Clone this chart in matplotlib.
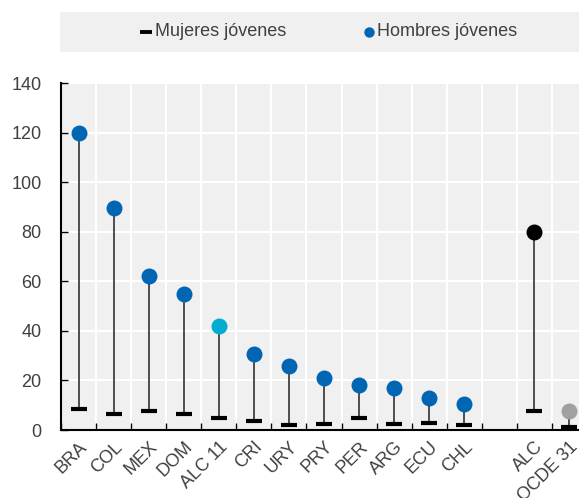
import numpy as np
import matplotlib.pyplot as plt
from matplotlib.patches import Rectangle
from matplotlib.lines import Line2D

plt.rcParams['font.family'] = ['Liberation Sans Narrow', 'Liberation Sans', 'DejaVu Sans']

paises = ['BRA', 'COL', 'MEX', 'DOM', 'ALC 11', 'CRI', 'URY', 'PRY', 'PER', 'ARG', 'ECU', 'CHL', '', 'ALC', 'OCDE 31']
hombres = [120, 89.5, 62, 55, 42, 30.5, 26, 21, 18, 17, 13, 10.5, np.nan, 80, 7.5]
mujeres = [8.5, 6.5, 7.5, 6.5, 4.8, 3.6, 2, 2.5, 5, 2.5, 3, 2, np.nan, 7.7, 1.3]
colores = ['#0066b3'] * 4 + ['#00add0'] + ['#0066b3'] * 7 + ['white', '#000000', '#a0a0a0']
yticks = [0, 20, 40, 60, 80, 100, 120, 140]

gris = '#404040'
fig = plt.figure(figsize=(5.79, 4.98), dpi=100)
ax = fig.add_axes([61/579, 68/498, 526/579, 347/498])
ax.set_facecolor('#f0f0f0')
x = np.arange(len(paises))

for i in range(len(paises)):
    if np.isnan(hombres[i]):
        continue
    ax.plot([x[i], x[i]], [mujeres[i], hombres[i]], color='#222222', lw=1.1, zorder=2)
    ax.plot(x[i], mujeres[i], marker='_', ms=11.5, mew=3, color='black', zorder=3)
    ax.plot(x[i], hombres[i], marker='o', ms=11.5, color=colores[i], mec='none', zorder=4)

ax.set_xlim(-0.5, len(paises) - 0.5)
ax.set_ylim(0, 140)
ax.set_yticks(yticks)
ax.set_xticks(x)
ax.set_xticklabels(paises, rotation=45, ha='right', rotation_mode='anchor', fontsize=13, color=gris)
ax.set_xticks(np.arange(-0.5, len(paises)), minor=True)
ax.tick_params(axis='x', which='major', length=0, pad=6)
ax.tick_params(axis='x', which='minor', direction='in', length=5, width=1, color='black')
ax.tick_params(axis='y', direction='in', length=5, width=1, labelsize=13, labelcolor=gris, pad=14)
ax.grid(axis='y', color='white', lw=1.5)
ax.grid(axis='x', which='minor', color='white', lw=1.5)
ax.set_axisbelow(True)
for s in ['top', 'right']:
    ax.spines[s].set_visible(False)
for s in ['left', 'bottom']:
    ax.spines[s].set_linewidth(1.5)
    ax.spines[s].set_color('black')

# leyenda
fig.patches.append(Rectangle((60/579, 1 - 52/498), 1, 40/498, transform=fig.transFigure,
                             facecolor='#f0f0f0', edgecolor='none', zorder=0))
ly = 1 - 32/498
fig.lines.append(Line2D([146/579], [ly], marker='_', ms=9, mew=2.8, color='black', transform=fig.transFigure))
fig.text(155/579, ly, 'Mujeres jóvenes', fontsize=13, color=gris, va='center', ha='left')
fig.lines.append(Line2D([369/579], [ly], marker='o', ms=7.5, color='#0066b3', mec='none', transform=fig.transFigure))
fig.text(377/579, ly, 'Hombres jóvenes', fontsize=13, color=gris, va='center', ha='left')

fig.savefig('out.png', dpi=100)
